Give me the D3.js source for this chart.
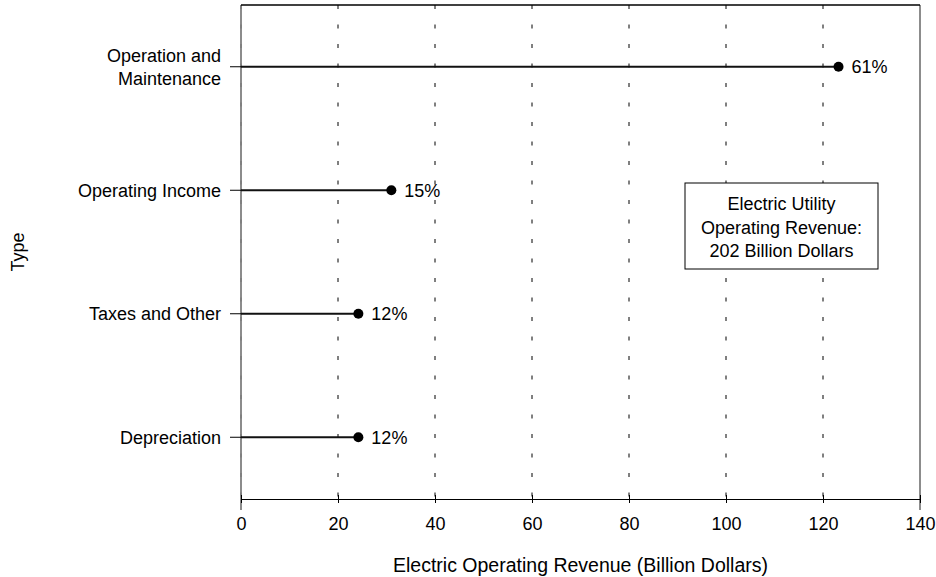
<!DOCTYPE html>
<html>
<head>
<meta charset="utf-8">
<script src="https://cdn.jsdelivr.net/npm/d3@7"></script>
<style>
  html, body { margin: 0; padding: 0; background: #fff; }
  svg { display: block; }
  text { font-family: "Liberation Sans", Arial, sans-serif; fill: #000; }
</style>
</head>
<body>
<svg id="chart" width="936" height="577"></svg>
<script>
const categories = ["Operation and Maintenance", "Operating Income", "Taxes and Other", "Depreciation"];
const categoryLines = [["Operation and", "Maintenance"], ["Operating Income"], ["Taxes and Other"], ["Depreciation"]];
const values = [123.2, 31, 24.2, 24.2];
const percentLabels = ["61%", "15%", "12%", "12%"];
const xTicks = [0, 20, 40, 60, 80, 100, 120, 140];
const xTitle = "Electric Operating Revenue (Billion Dollars)";
const yTitle = "Type";
const noteLines = ["Electric Utility", "Operating Revenue:", "202 Billion Dollars"];

(function () {
const FS = 18;
const svg = d3.select("#chart");
const pLeft = 241, pRight = 920, pTop = 5, pBottom = 499;

const x = d3.scaleLinear().domain([0, 140]).range([pLeft, pRight]);
const y = d3.scalePoint().domain(categories).range([pTop, pBottom]).padding(0.5);

// grid lines (dotted)
svg.append("g").selectAll("line").data(xTicks.filter(d => d < 140)).join("line")
  .attr("x1", d => x(d)).attr("x2", d => x(d))
  .attr("y1", pTop).attr("y2", pBottom)
  .attr("stroke", "#000").attr("stroke-width", 1)
  .attr("stroke-dasharray", "4,15.5");

// gray side lines
svg.append("g").selectAll("line").data([0, 140]).join("line")
  .attr("x1", d => x(d)).attr("x2", d => x(d))
  .attr("y1", pTop).attr("y2", 510)
  .attr("stroke", "#808080").attr("stroke-width", 2).attr("opacity", 0.9);

// top line
svg.append("line").attr("x1", x(0)).attr("x2", x(140)).attr("y1", pTop).attr("y2", pTop)
  .attr("stroke", "#000").attr("stroke-width", 1.5);

// x axis
const xAxis = d3.axisBottom(x).tickValues(xTicks).tickSize(4).tickSizeOuter(0).tickPadding(14);
const gx = svg.append("g").attr("transform", `translate(0,${pBottom})`).call(xAxis);
gx.select(".domain").attr("stroke", "#000").attr("stroke-width", 1.2);
gx.selectAll(".tick line").attr("stroke", "#000").attr("y1", -4).attr("y2", 4);
gx.selectAll(".tick text").attr("font-size", FS).attr("font-family", "Liberation Sans, Arial, sans-serif").attr("fill", "#000");

// y axis ticks
svg.append("g").selectAll("line").data(categories).join("line")
  .attr("x1", pLeft - 11).attr("x2", pLeft)
  .attr("y1", d => y(d)).attr("y2", d => y(d))
  .attr("stroke", "#000").attr("stroke-width", 1);

// y labels
const yl = svg.append("g").selectAll("text").data(categories).join("text")
  .attr("x", pLeft - 20).attr("y", d => y(d))
  .attr("text-anchor", "end").attr("font-size", FS);
yl.each(function(d, i) {
  const lines = categoryLines[i];
  const n = lines.length;
  const t = d3.select(this);
  lines.forEach((ln, j) => {
    t.append("tspan").attr("x", pLeft - 20)
      .attr("y", y(d) + (j - (n - 1) / 2) * 23)
      .attr("dy", "0.35em").text(ln);
  });
});

// stems
svg.append("g").selectAll("line").data(categories).join("line")
  .attr("x1", x(0)).attr("x2", (d, i) => x(values[i]))
  .attr("y1", d => y(d)).attr("y2", d => y(d))
  .attr("stroke", "#111").attr("stroke-width", 2.2);

// dots
svg.append("g").selectAll("circle").data(categories).join("circle")
  .attr("cx", (d, i) => x(values[i])).attr("cy", d => y(d)).attr("r", 5)
  .attr("fill", "#000");

// percent labels
svg.append("g").selectAll("text").data(categories).join("text")
  .attr("x", (d, i) => x(values[i]) + 13).attr("y", d => y(d))
  .attr("dy", "0.35em").attr("font-size", FS)
  .text((d, i) => percentLabels[i]);

// annotation box
const bx0 = 685, bx1 = 878, by0 = 183, by1 = 269;
svg.append("rect").attr("x", bx0).attr("y", by0).attr("width", bx1 - bx0).attr("height", by1 - by0)
  .attr("fill", "#fff").attr("stroke", "#000").attr("stroke-width", 1);
svg.append("g").selectAll("text").data(noteLines).join("text")
  .attr("x", (bx0 + bx1) / 2).attr("y", (d, i) => 204 + i * 23.5)
  .attr("dy", "0.35em").attr("text-anchor", "middle").attr("font-size", FS)
  .text(d => d);

// axis titles
svg.append("text").attr("x", (pLeft + pRight) / 2).attr("y", 565).attr("dy", "0.35em")
  .attr("text-anchor", "middle").attr("font-size", 19.5).text(xTitle);
svg.append("text").attr("transform", `translate(18,${(pTop + pBottom) / 2}) rotate(-90)`)
  .attr("dy", "0.35em").attr("text-anchor", "middle").attr("font-size", FS).text(yTitle);
})();
</script>
</body>
</html>
